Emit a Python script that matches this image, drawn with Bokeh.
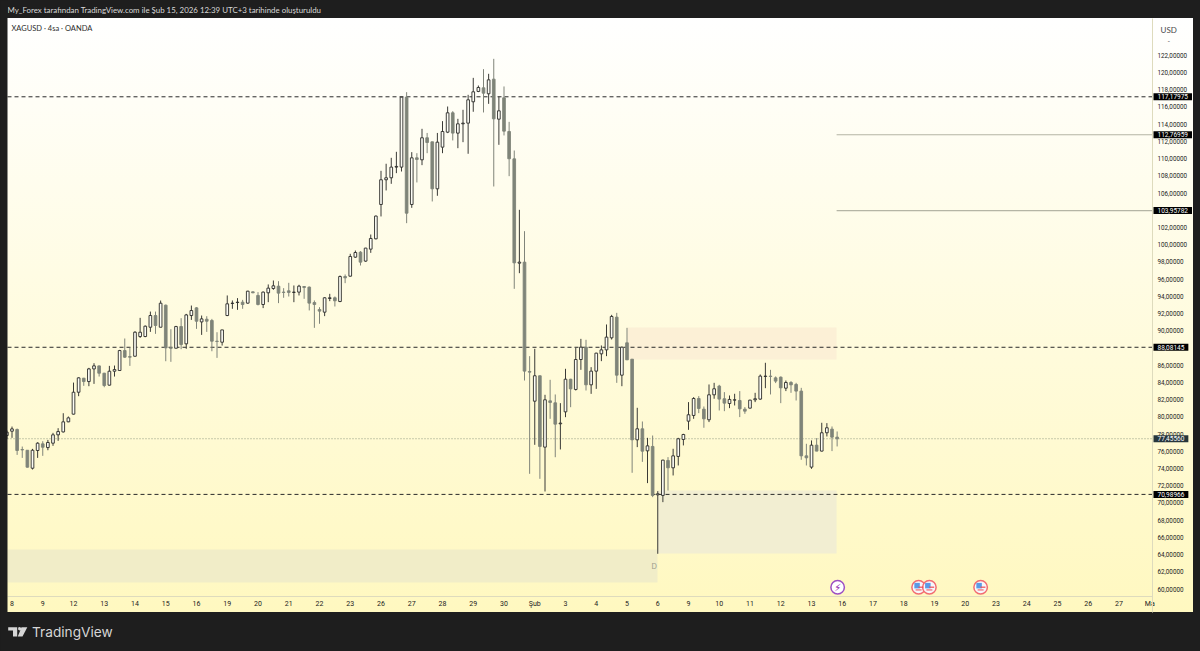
from bokeh.plotting import figure
from bokeh.models import (ColumnDataSource, FixedTicker, Label, PolyAnnotation, BoxAnnotation,
                          LinearAxis, Range1d)
from bokeh.core.properties import value
from bokeh.embed import file_html
from bokeh.resources import INLINE

# ---------- data ----------
bar_index = list(range(-1, 162))
opens = [77.83,78.33,78.53,76.20,76.12,74.03,76.09,76.86,76.43,76.94,77.91,78.25,79.42,80.31,82.86,84.49,84.10,85.57,85.92,85.07,83.68,85.30,85.38,87.70,87.00,87.04,89.33,89.33,90.41,91.77,90.41,92.97,88.01,87.97,90.49,88.48,91.77,92.66,91.03,91.34,91.19,88.79,88.67,
 91.77,93.17,93.28,93.32,93.21,94.52,94.10,93.05,94.41,94.91,95.18,94.49,94.64,94.45,94.49,95.14,95.07,93.28,92.47,92.16,93.75,93.83,93.40,96.30,96.34,98.55,99.13,98.09,99.48,
 100.68,104.67,107.54,107.77,109.01,109.01,117.14,104.67,110.09,109.86,112.42,111.95,106.49,111.33,113.07,115.32,112.96,114.04,114.12,116.60,117.80,118.22,117.53,119.23,114.58,117.06,113.15,109.97,97.85,97.97,
 85.27,81.82,84.77,76.48,81.86,81.63,79.19,80.58,84.37,83.18,86.66,88.09,83.72,85.31,87.32,87.78,89.18,91.58,84.84,88.60,86.70,77.33,78.61,76.05,76.56,70.94,70.87,
 74.93,74.08,75.40,77.37,79.50,80.16,82.13,80.89,79.66,82.56,83.57,82.10,81.55,81.94,81.90,80.89,81.01,81.98,82.06,84.69,84.73,84.53,84.61,83.33,83.99,83.76,82.99,75.47,74.16,76.71,76.02,78.15,78.57,77.64]
highs = [78.41,78.87,78.64,76.55,76.14,76.28,77.05,77.17,77.32,78.14,78.68,80.42,80.04,83.98,84.60,84.53,85.69,86.23,85.96,85.11,85.92,85.96,87.78,89.10,88.05,89.95,91.50,90.61,92.23,92.23,93.51,93.05,90.18,90.57,91.46,91.96,92.93,92.74,91.77,91.69,91.38,89.83,90.10,
 94.10,93.52,93.79,93.59,94.64,94.56,94.49,94.56,95.38,95.84,95.76,94.95,95.57,95.26,95.34,95.18,95.14,93.52,92.74,93.90,94.29,93.98,96.42,96.54,98.94,99.32,99.25,99.63,101.18,
 103.39,108.58,109.40,110.09,110.79,117.14,117.72,110.75,110.63,113.46,112.98,111.95,112.98,114.35,116.05,115.51,114.62,115.67,117.41,119.38,118.49,120.39,119.85,121.59,117.22,118.38,114.27,110.94,104.05,101.57,
 87.05,87.90,84.80,82.56,84.30,82.60,81.59,85.58,84.42,88.01,89.06,88.95,85.77,87.44,88.29,90.73,91.85,92.08,88.17,90.34,86.70,81.05,79.46,77.56,77.83,71.37,75.01,
 75.32,76.29,77.56,78.03,81.71,82.29,82.41,81.20,83.76,83.95,83.72,82.87,82.48,82.68,82.99,81.13,81.98,82.79,84.92,86.28,85.46,84.69,84.69,84.22,84.15,83.95,83.37,76.87,77.26,77.53,79.31,79.27,78.88,78.30]
lows = [77.44,77.56,75.58,75.23,74.11,73.88,75.23,75.47,76.12,76.63,77.21,78.18,79.38,80.27,82.40,83.60,83.56,83.83,84.68,83.44,83.64,84.68,85.38,86.85,85.92,87.00,89.17,89.25,89.87,89.64,90.41,86.46,86.39,87.97,87.86,87.90,91.26,90.22,89.52,89.87,87.62,86.85,88.28,
 91.70,92.55,92.43,92.55,93.13,94.37,92.94,92.63,93.32,94.76,93.21,93.83,93.98,93.32,94.10,93.71,92.36,90.34,90.81,91.70,93.44,92.82,93.32,95.53,96.30,98.47,97.58,98.01,99.05,
 100.62,103.28,106.30,107.07,108.31,108.50,102.50,104.28,107.23,109.24,110.63,105.02,105.68,110.63,112.96,112.11,111.21,111.91,110.56,115.44,117.72,115.36,116.36,106.76,111.60,112.69,107.96,94.87,96.69,84.22,
 73.38,76.75,72.80,71.33,79.77,75.31,76.21,79.96,81.12,83.06,85.46,83.06,82.67,83.25,86.47,87.05,88.98,83.95,83.56,86.62,73.50,76.48,74.77,72.30,70.67,64.09,70.09,
 71.44,73.19,74.35,76.68,78.49,79.77,80.43,78.73,79.39,82.10,80.74,80.66,81.01,81.32,79.97,80.35,80.97,81.71,81.98,83.33,82.60,83.92,81.59,82.99,82.79,81.90,75.01,74.35,73.96,76.00,75.98,77.72,76.02,76.56]
closes = [78.22,78.60,76.09,76.16,74.15,76.12,76.94,76.47,77.02,77.91,78.29,79.42,79.88,82.86,84.53,84.10,85.57,85.92,85.07,83.64,85.30,85.49,87.70,86.93,86.93,89.83,89.83,90.53,91.77,90.61,93.20,88.01,87.97,90.49,88.40,91.84,92.35,91.11,91.38,91.11,88.79,88.75,90.10,
 93.13,93.21,93.32,93.05,94.60,94.41,93.05,94.49,94.95,95.22,94.37,94.45,94.45,94.49,95.18,95.03,93.21,93.05,92.28,93.83,93.83,93.48,96.30,96.15,98.63,99.09,97.97,99.60,100.72,
 103.32,107.54,107.77,109.01,109.09,117.14,103.66,110.09,109.90,112.42,111.87,106.49,111.91,113.15,115.32,112.96,114.04,114.12,116.83,117.76,118.26,117.60,119.15,114.62,115.55,113.19,109.98,97.89,97.97,85.31,
 85.19,84.77,76.56,81.98,81.67,79.15,79.27,84.37,83.25,86.66,88.09,83.72,85.31,87.40,87.78,89.26,91.66,84.84,88.09,86.62,77.33,78.61,76.01,76.63,70.87,71.06,74.97,
 74.08,75.47,77.45,77.95,80.24,82.13,80.97,79.77,82.56,83.26,82.06,81.59,82.02,81.98,80.93,80.66,81.94,82.10,84.73,84.73,84.69,84.15,83.37,83.99,83.72,82.99,75.47,75.24,76.71,76.02,78.15,78.73,77.64,77.45]

price_ticks = list(range(60, 124, 2))
price_tick_labels = [f"{v},00000" for v in price_ticks]
time_ticks = list(range(0, 228, 6))
time_tick_labels = ["8","9","12","13","14","15","16","19","20","21","22","23","26","27","28","29","30","Şub",
                    "3","4","5","6","9","10","11","12","13","16","17","18","19","20","23","24","25","26","27","Ma"]

dashed_levels = [117.17975, 88.08145, 70.98966]
dashed_texts = ["117,17975", "88,08145", "70,98966"]
solid_levels = [112.76959, 103.95782]
solid_texts = ["112,76959", "103,95782"]
solid_start = 160.9
last_price = 77.4556
last_text = "77,45560"

zone_right = [160.9, 160.9, 125.95]
zone_left = [120.1, 125.95, -0.88]
zone_top = [90.38, 71.44, 64.59]
zone_bottom = [86.66, 64.12, 60.76]
zone_color = ["#fcf0d6", "#f2eed2", "#f1edc8"]

event_y = 60.21
lightning_x = [161.1]
flag_x = [176.9, 179.0, 189.0]

header = "My_Forex tarafından TradingView.com ile Şub 15, 2026 12:39 UTC+3 tarihinde oluşturuldu"
symbol = "XAGUSD · 4sa · OANDA"

FONT = "Lato"
TICK_FONT = "Roboto"
DARK = "#1e1e1e"

# ---------- scales: panel pixel <-> value ----------
PRICE_AT_PX = lambda py: 60 + (588.5 - py) / 8.608
IDX_AT_PX = lambda px: (px - 11.5) / 5.125

p = figure(width=1200, height=651, output_backend="svg", toolbar_location=None,
           x_range=Range1d(IDX_AT_PX(0), IDX_AT_PX(1200)),
           y_range=Range1d(PRICE_AT_PX(651), PRICE_AT_PX(0)),
           x_axis_location=None, y_axis_location=None,
           min_border=0, min_border_left=0, min_border_right=0, min_border_top=0, min_border_bottom=0)
p.xgrid.visible = False
p.ygrid.visible = False
p.outline_line_alpha = 0
p.background_fill_alpha = 0
p.border_fill_alpha = 0

X_LEFT, X_RIGHT = IDX_AT_PX(7), IDX_AT_PX(1152)
xax = LinearAxis(ticker=FixedTicker(ticks=time_ticks),
                 major_label_overrides=dict(zip(time_ticks, time_tick_labels)),
                 fixed_location=PRICE_AT_PX(596), bounds=(IDX_AT_PX(7), IDX_AT_PX(1152)))
yax = LinearAxis(ticker=FixedTicker(ticks=price_ticks),
                 major_label_overrides=dict(zip(price_ticks, price_tick_labels)),
                 fixed_location=X_RIGHT, bounds=(PRICE_AT_PX(612), PRICE_AT_PX(18)))
for ax in (xax, yax):
    ax.major_tick_line_color = None
    ax.minor_tick_line_color = None
    ax.axis_line_color = "#dedbbd"
    ax.axis_line_width = 1
    ax.major_label_text_font = TICK_FONT
    ax.major_label_text_color = "#222222"
    ax.major_tick_in = 0
    ax.major_tick_out = 0
xax.major_label_text_font_size = "7px"
yax.major_label_text_font_size = "6.3px"
xax.major_label_standoff = 3
yax.major_label_standoff = 5
p.add_layout(xax, "below")
p.add_layout(yax, "right")

# zones
p.quad(left=zone_left, right=zone_right, top=zone_top, bottom=zone_bottom,
       fill_color=zone_color, line_color=None, level="underlay")

# level lines
r = p.segment(x0=[X_LEFT] * 3, x1=[X_RIGHT] * 3, y0=dashed_levels, y1=dashed_levels,
              line_color="#2a2a2a", line_width=1, level="underlay")
r.glyph.line_dash = [4, 3]
r = p.segment(x0=[X_LEFT], x1=[X_RIGHT], y0=[last_price], y1=[last_price],
              line_color="#8f9a80", line_width=1, level="underlay")
r.glyph.line_dash = [1, 2]
p.segment(x0=[solid_start] * 2, x1=[X_RIGHT] * 2, y0=solid_levels, y1=solid_levels,
          line_color="#b5b5a5", line_width=1.2, level="underlay")

# candles
up = [i for i in range(len(opens)) if closes[i] >= opens[i]]
dn = [i for i in range(len(opens)) if closes[i] < opens[i]]
for idx, wick, fill, edge in ((dn, "#80847a", "#7f8479", "#7f8479"),
                              (up, "#3a3a36", "#fdfdf6", "#2a2a28")):
    src = ColumnDataSource(dict(
        x=[bar_index[i] for i in idx],
        h=[highs[i] for i in idx], l=[lows[i] for i in idx],
        top=[max(opens[i], closes[i]) for i in idx],
        bot=[min(opens[i], closes[i]) for i in idx]))
    p.segment("x", "h", "x", "l", source=src, line_color=wick, line_width=1)
    p.vbar(x="x", top="top", bottom="bot", width=0.52, source=src,
           fill_color=fill, line_color=edge, line_width=0.9)

# dark strip that hides the part of the first bar outside the panel
p.add_layout(BoxAnnotation(right=X_LEFT, fill_color=DARK, fill_alpha=1, line_color=None, level="overlay"))

# event icons
p.scatter(x=lightning_x, y=[event_y], size=13.5, marker="circle", fill_color="#ffffff",
          line_color="#9c4fc4", line_width=1.5)
p.text(x=lightning_x, y=[event_y], text=["⚡"], text_align="center", text_baseline="middle",
       text_font_size="10px", text_color="#8e24aa", text_font=value("DejaVu Sans"))
p.scatter(x=flag_x, y=[event_y] * 3, size=13.5, marker="circle", fill_color="#f7f7fb",
          line_color="#f26d72", line_width=1.5)
p.scatter(x=[v - 0.3 for v in flag_x], y=[event_y + 0.18] * 3, size=5.5, marker="square",
          fill_color="#5b9be6", line_color=None)
p.scatter(x=[v + 0.45 for v in flag_x], y=[event_y] * 3, size=5, marker="dash",
          line_color="#ee4d55", line_width=1.2)
p.scatter(x=flag_x, y=[event_y - 0.32] * 3, size=6, marker="dash",
          line_color="#ee4d55", line_width=1)

# helpers: frame-relative screen coordinates
SX = lambda px: px
SY = lambda py: 651 - py

def note(text, px, py, size, color, style="normal", font=FONT):
    p.add_layout(Label(x=SX(px), y=SY(py), x_units="screen", y_units="screen", text=text,
                       text_font=font, text_font_size=size, text_color=color,
                       text_baseline="middle", text_align="left", text_font_style=style))

note(header, 7, 9.5, "7.9px", "#d8d8d8")
note(symbol, 11, 27.5, "7.5px", "#2c2c2c")
note("USD", 1160, 29, "8px", "#4a4a4a")
note("-", 1167, 40, "7px", "#666666")
note("D", 651, 565, "7px", "#9a9a8a")
note("TradingView", 31.5, 631.5, "13.7px", "#d6d6d6", font="Inter")

# price tags
def tag(text, level, bg):
    p.add_layout(Label(x=SX(1153), y=level, x_units="screen", y_units="data", text=text,
                       text_font=TICK_FONT, text_font_size="6.5px", text_color="#ffffff",
                       text_baseline="middle", text_align="left",
                       background_fill_color=bg, padding=(4, 1)))
for t, lv in zip(dashed_texts, dashed_levels):
    tag(t, lv, "#000000")
for t, lv in zip(solid_texts, solid_levels):
    tag(t, lv, "#000000")
tag(last_text, last_price, "#26363c")

# logo
LOGO = "#d6d6d6"
def poly(points):
    p.add_layout(PolyAnnotation(xs=[SX(a) for a, b in points], ys=[SY(b) for a, b in points],
                                xs_units="screen", ys_units="screen",
                                fill_color=LOGO, fill_alpha=1, line_color=None, level="overlay"))
poly([(7.7, 626.7), (16.7, 626.7), (16.7, 636), (12.5, 636), (12.5, 630), (7.7, 630)])
poly([(21, 626.7), (26.8, 626.7), (22, 636), (17.3, 636)])
poly([(17.7, 626.9), (19.3, 626.4), (20.8, 627.6), (20.5, 629.4), (18.9, 630), (17.6, 629)])

TEMPLATE = """{% block preamble %}<style>
html { background: linear-gradient(to bottom, #ffffff 0%, #fff8c0 100%) 7px 18px / 1186px 594px no-repeat, #1e1e1e; }
body { background: transparent; margin: 0; }
</style>{% endblock %}"""

open("out.html", "w").write(file_html(p, INLINE, template=TEMPLATE))
